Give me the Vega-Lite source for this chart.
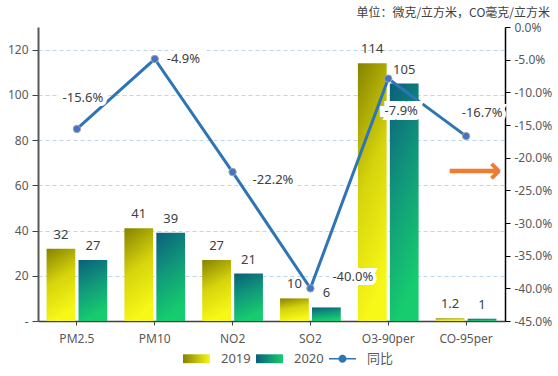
{
  "$schema": "https://vega.github.io/schema/vega-lite/v6.json",
  "width": 467,
  "height": 294,
  "autosize": {"type": "none"},
  "padding": {"left": 38, "top": 27, "right": 53, "bottom": 55},
  "background": "white",
  "title": {"text": "单位：微克/立方米，CO毫克/立方米", "anchor": "end", "frame": "group", "dx": 45, "offset": 1, "fontSize": 12, "fontWeight": "normal", "color": "#404040", "font": "Noto Sans CJK SC"},
  "datasets": {
    "bars": [
      {"cat": "PM2.5", "year": "2019", "v": 32},
      {"cat": "PM2.5", "year": "2020", "v": 27},
      {"cat": "PM10", "year": "2019", "v": 41},
      {"cat": "PM10", "year": "2020", "v": 39},
      {"cat": "NO2", "year": "2019", "v": 27},
      {"cat": "NO2", "year": "2020", "v": 21},
      {"cat": "SO2", "year": "2019", "v": 10},
      {"cat": "SO2", "year": "2020", "v": 6},
      {"cat": "O3-90per", "year": "2019", "v": 114},
      {"cat": "O3-90per", "year": "2020", "v": 105},
      {"cat": "CO-95per", "year": "2019", "v": 1.2},
      {"cat": "CO-95per", "year": "2020", "v": 1}
    ],
    "yoy": [
      {"cat": "PM2.5", "yoy": -0.156},
      {"cat": "PM10", "yoy": -0.049},
      {"cat": "NO2", "yoy": -0.222},
      {"cat": "SO2", "yoy": -0.4},
      {"cat": "O3-90per", "yoy": -0.079},
      {"cat": "CO-95per", "yoy": -0.167}
    ],
    "note": [{"cat": "CO-95per", "yoy": -0.222, "sym": "⟶"}]
  },
  "layer": [
    {
      "data": {"name": "bars"},
      "encoding": {
        "x": {"field": "cat", "type": "nominal", "sort": null, "scale": {"paddingInner": 0.22, "paddingOuter": 0.11},
          "axis": {"title": null, "labelAngle": 0, "labelFontSize": 12, "labelColor": "#595959", "labelPadding": 8, "domainColor": "#404040", "domainWidth": 1.5, "tickColor": "#404040", "tickSize": 4}},
        "xOffset": {"field": "year", "type": "nominal", "scale": {"paddingInner": 0.1}},
        "y": {"field": "v", "type": "quantitative", "scale": {"domain": [0, 130], "nice": false},
          "axis": {"title": null, "values": [0, 20, 40, 60, 80, 100, 120], "labelExpr": "datum.value == 0 ? '-' : datum.label", "grid": true, "gridColor": "#BDD7EE", "gridDash": [4, 3], "gridWidth": 1, "domainColor": "#595959", "domainWidth": 2, "tickColor": "#404040", "tickSize": 6, "labelColor": "#595959", "labelFontSize": 12, "labelPadding": 4}}
      },
      "layer": [
        {
          "mark": {"type": "bar"},
          "encoding": {
            "fill": {
              "condition": {"test": "datum.year === '2019'", "value": {"gradient": "linear", "x1": 0, "y1": 0, "x2": 0.25, "y2": 1, "stops": [{"offset": 0, "color": "#858200"}, {"offset": 0.5, "color": "#D6D40C"}, {"offset": 1, "color": "#F7F718"}]}},
              "value": {"gradient": "linear", "x1": 0, "y1": 0, "x2": 0.25, "y2": 1, "stops": [{"offset": 0, "color": "#0A5F7A"}, {"offset": 0.5, "color": "#11997A"}, {"offset": 1, "color": "#16CC6E"}]}
            }
          }
        },
        {
          "mark": {"type": "text", "baseline": "bottom", "dy": -7, "fontSize": 13, "color": "#404040"},
          "encoding": {"text": {"field": "v", "type": "quantitative", "format": "~g"}}
        }
      ]
    },
    {
      "data": {"name": "yoy"},
      "encoding": {
        "x": {"field": "cat", "type": "nominal", "sort": null, "axis": {"title": null, "labelAngle": 0, "labelFontSize": 12, "labelColor": "#595959", "labelPadding": 8, "domainColor": "#404040", "domainWidth": 1.5, "tickColor": "#404040", "tickSize": 4}},
        "y": {"field": "yoy", "type": "quantitative", "scale": {"domain": [-0.45, 0], "nice": false},
          "axis": {"orient": "right", "title": null, "values": [0, -0.05, -0.1, -0.15, -0.2, -0.25, -0.3, -0.35, -0.4, -0.45], "format": ".1%", "grid": false, "domainColor": "#000000", "domainWidth": 1.5, "tickColor": "#000000", "tickSize": 5, "labelColor": "#595959", "labelFontSize": 12, "labelPadding": 4}}
      },
      "layer": [
        {
          "mark": {"type": "line", "strokeWidth": 3},
          "encoding": {"color": {"datum": "同比", "type": "nominal",
            "scale": {"domain": ["2019", "2020", "同比"], "range": ["#C8C810", "#0F9A78", "#2E75B6"]},
            "legend": {"title": null, "orient": "none", "legendX": 145, "legendY": 318, "direction": "horizontal", "padding": 0, "symbolSize": 729, "symbolStrokeWidth": 0, "labelFontSize": 13, "labelColor": "#595959", "labelOffset": 11, "columnPadding": 5, "labelFont": "Noto Sans, Noto Sans CJK SC",
              "encode": {"symbols": {"update": {
                "shape": {"signal": "datum.value === '同比' ? 'M-1,-0.06H1V0.06H-1ZM0.3,0A0.3,0.3 0 1 1 -0.3,0A0.3,0.3 0 1 1 0.3,0Z' : 'M-1,-0.33H1V0.33H-1Z'"},
                "size": {"value": 729},
                "strokeWidth": {"value": 0},
                "stroke": {"value": "transparent"},
                "fill": {"signal": "datum.value === '2019' ? {gradient: 'linear', x1: 0, y1: 0, x2: 1, y2: 0, stops: [{offset: 0, color: '#858200'}, {offset: 1, color: '#F7F718'}]} : datum.value === '2020' ? {gradient: 'linear', x1: 0, y1: 0, x2: 1, y2: 0, stops: [{offset: 0, color: '#0A5F7A'}, {offset: 1, color: '#16CC6E'}]} : '#2E75B6'"},
                "opacity": {"value": 1},
                "fillOpacity": {"value": 1},
                "strokeOpacity": {"value": 1}
              }}}}}}
        },
        {
          "mark": {"type": "point", "filled": true, "size": 55, "fill": "#4472C4", "stroke": "#A5A5A5", "strokeWidth": 1, "opacity": 1}
        },
        {
          "transform": [{"filter": "datum.cat === 'PM2.5'"}],
          "encoding": {"text": {"field": "yoy", "type": "quantitative", "format": ".1%"}},
          "layer": [
            {"mark": {"type": "text", "dx": 6, "dy": -31, "align": "center", "fontSize": 13, "fill": "white", "stroke": "white", "strokeWidth": 8, "strokeJoin": "miter"}},
            {"mark": {"type": "text", "dx": 6, "dy": -31, "align": "center", "fontSize": 13, "fill": "#404040"}}
          ]
        },
        {
          "transform": [{"filter": "datum.cat === 'PM10'"}],
          "encoding": {"text": {"field": "yoy", "type": "quantitative", "format": ".1%"}},
          "layer": [
            {"mark": {"type": "text", "dx": 12, "dy": 0, "align": "left", "fontSize": 13, "fill": "white", "stroke": "white", "strokeWidth": 8, "strokeJoin": "miter"}},
            {"mark": {"type": "text", "dx": 12, "dy": 0, "align": "left", "fontSize": 13, "fill": "#404040"}}
          ]
        },
        {
          "transform": [{"filter": "datum.cat === 'NO2'"}],
          "encoding": {"text": {"field": "yoy", "type": "quantitative", "format": ".1%"}},
          "layer": [
            {"mark": {"type": "text", "dx": 20, "dy": 8, "align": "left", "fontSize": 13, "fill": "white", "stroke": "white", "strokeWidth": 8, "strokeJoin": "miter"}},
            {"mark": {"type": "text", "dx": 20, "dy": 8, "align": "left", "fontSize": 13, "fill": "#404040"}}
          ]
        },
        {
          "transform": [{"filter": "datum.cat === 'SO2'"}],
          "encoding": {"text": {"field": "yoy", "type": "quantitative", "format": ".1%"}},
          "layer": [
            {"mark": {"type": "text", "dx": 22, "dy": -11, "align": "left", "fontSize": 13, "fill": "white", "stroke": "white", "strokeWidth": 8, "strokeJoin": "miter"}},
            {"mark": {"type": "text", "dx": 22, "dy": -11, "align": "left", "fontSize": 13, "fill": "#404040"}}
          ]
        },
        {
          "transform": [{"filter": "datum.cat === 'O3-90per'"}],
          "encoding": {"text": {"field": "yoy", "type": "quantitative", "format": ".1%"}},
          "layer": [
            {"mark": {"type": "text", "dx": 13, "dy": 32, "align": "center", "fontSize": 13, "fill": "white", "stroke": "white", "strokeWidth": 10, "strokeJoin": "miter"}},
            {"mark": {"type": "text", "dx": 13, "dy": 32, "align": "center", "fontSize": 13, "fill": "#404040"}}
          ]
        },
        {
          "transform": [{"filter": "datum.cat === 'CO-95per'"}],
          "encoding": {"text": {"field": "yoy", "type": "quantitative", "format": ".1%"}},
          "layer": [
            {"mark": {"type": "text", "dx": 16, "dy": -23, "align": "center", "fontSize": 13, "fill": "white", "stroke": "white", "strokeWidth": 8, "strokeJoin": "miter"}},
            {"mark": {"type": "text", "dx": 16, "dy": -23, "align": "center", "fontSize": 13, "fill": "#404040"}}
          ]
        },
        {
          "data": {"name": "note"},
          "mark": {"type": "text", "dx": 9, "baseline": "middle", "align": "center", "font": "DejaVu Sans", "fontSize": 38, "fontWeight": "bold", "color": "#ED7D31"},
          "encoding": {"text": {"field": "sym", "type": "nominal"}}
        }
      ]
    }
  ],
  "resolve": {"scale": {"y": "independent"}},
  "config": {
    "view": {"stroke": null},
    "font": "Noto Sans, Noto Sans CJK SC",
    "locale": {"number": {"decimal": ".", "thousands": ",", "grouping": [3], "currency": ["$", ""], "minus": "-"}}
  }
}
